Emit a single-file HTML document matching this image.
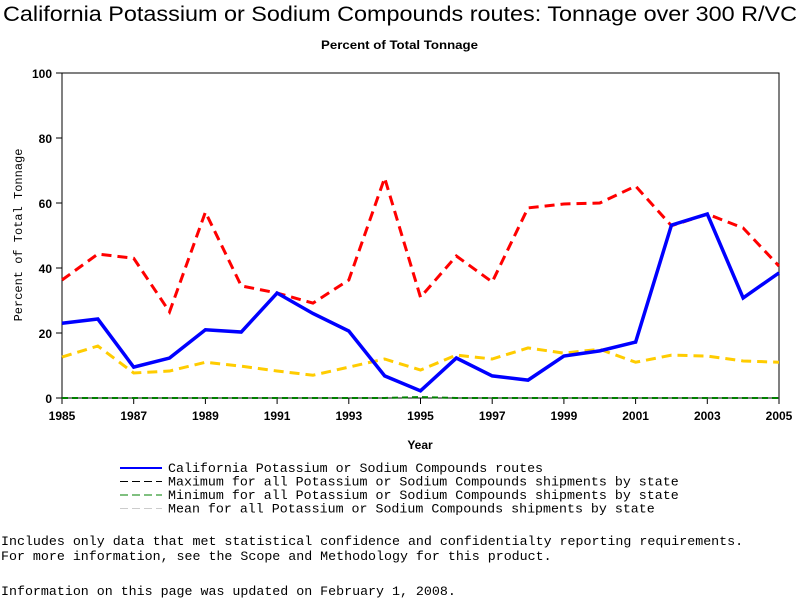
<!DOCTYPE html>
<html><head><meta charset="utf-8"><style>
body{margin:0;background:#fff;width:800px;height:600px;overflow:hidden;position:relative;font-family:"Liberation Sans",sans-serif}
.t{position:absolute;white-space:pre}
.m{font-family:"Liberation Mono",monospace;font-size:13.3px}
</style></head><body>
<svg id="c" width="800" height="600" style="position:absolute;left:0;top:0">
<text x="3" y="21" font-size="21" font-family="Liberation Sans" textLength="794" lengthAdjust="spacingAndGlyphs">California Potassium or Sodium Compounds routes: Tonnage over 300 R/VC</text>
<text x="321" y="49" font-size="12" font-weight="bold" font-family="Liberation Sans" textLength="157" lengthAdjust="spacingAndGlyphs">Percent of Total Tonnage</text>
</svg>
<div class="t m" style="left:1px;top:534px">Includes only data that met statistical confidence and confidentialty reporting requirements.
For more information, see the Scope and Methodology for this product.</div>
<div class="t m" style="left:1px;top:584px">Information on this page was updated on February 1, 2008.</div>
<script>
const years=[1985,1986,1987,1988,1989,1990,1991,1992,1993,1994,1995,1996,1997,1998,1999,2000,2001,2002,2003,2004,2005];
const caVals=[23,24.3,9.5,12.3,21,20.3,32.3,26,20.6,6.8,2.2,12.3,6.8,5.5,12.9,14.5,17.2,53.2,56.6,30.8,38.5];
const maxVals=[36.3,44.3,43,26.5,57.2,34.5,32.3,29.2,36.3,67.7,31,43.7,35.7,58.5,59.7,60,65.2,53,56.6,52.3,40.6];
const minVals=[0,0,0,0,0,0,0,0,0,0,0.3,0,0,0,0,0,0,0,0,0,0];
const meanVals=[12.6,16,7.7,8.3,11,9.8,8.3,7,9.5,12,8.6,13.2,12,15.4,13.8,15,11,13.2,12.9,11.4,11];
const yTicks=[0,20,40,60,80,100];
const xTicks=[1985,1987,1989,1991,1993,1995,1997,1999,2001,2003,2005];
const legendLabels=["California Potassium or Sodium Compounds routes","Maximum for all Potassium or Sodium Compounds shipments by state","Minimum for all Potassium or Sodium Compounds shipments by state","Mean for all Potassium or Sodium Compounds shipments by state"];
const L=62,R=779,T=73,B=398;
const xs=v=>L+(v-1985)/(2005-1985)*(R-L);
const ys=v=>B-v/100*(B-T);
const s=document.getElementById('c');const NS='http://www.w3.org/2000/svg';
function el(tag,a,txt){const e=document.createElementNS(NS,tag);for(const k in a)e.setAttribute(k,a[k]);if(txt!=null)e.textContent=txt;s.appendChild(e);return e;}
let e=el('rect',{x:L,y:T,width:R-L,height:B-T,fill:'none',stroke:'#000','stroke-width':1});


yTicks.forEach(v=>{let t=el('line',{x1:L-6,x2:L,y1:ys(v),y2:ys(v),stroke:'#000'});


let l=el('text',{x:L-10,y:ys(v)+5,'text-anchor':'end','font-size':'12','font-weight':'bold','font-family':'Liberation Sans'},v);

});
xTicks.forEach(v=>{let t=el('line',{x1:xs(v),x2:xs(v),y1:B,y2:B+6,stroke:'#000'});


let l=el('text',{x:xs(v),y:B+22,'text-anchor':'middle','font-size':'12','font-weight':'bold','font-family':'Liberation Sans'},v);

});
e=el('text',{x:420,y:449,'text-anchor':'middle','font-size':'12','font-weight':'bold','font-family':'Liberation Sans'},'Year');


e=el('text',{x:22,y:235,'text-anchor':'middle','font-size':'12','font-family':'Liberation Mono',transform:'rotate(-90 22 235)'},'Percent of Total Tonnage');


const series=[[minVals,'#008000','6 4',2,'min-line'],[meanVals,'#ffcc00','10 6',3,'mean-line'],[maxVals,'#ff0000','10 6',3,'max-line'],[caVals,'#0000ff','',3.5,'california-line']];
series.forEach(([d,c,da,w,n])=>{const p=d.map((v,i)=>(i?'L':'M')+xs(years[i])+','+ys(v)).join('');
let q=el('path',{d:p,fill:'none',stroke:c,'stroke-width':w,'stroke-dasharray':da});

});
const lc=[['#0000ff',''],['#000','8 4'],['#008000','8 4'],['#ccc','8 4']];
legendLabels.forEach((t,i)=>{const y=468+i*13.5;
let a=el('line',{x1:120,x2:162,y1:y,y2:y,stroke:lc[i][0],'stroke-width':i?1:2,'stroke-dasharray':lc[i][1]});


let b=el('text',{x:168,y:y+4,'font-size':'13.3','font-family':'Liberation Mono'},t);

});
</script>
</body></html>
